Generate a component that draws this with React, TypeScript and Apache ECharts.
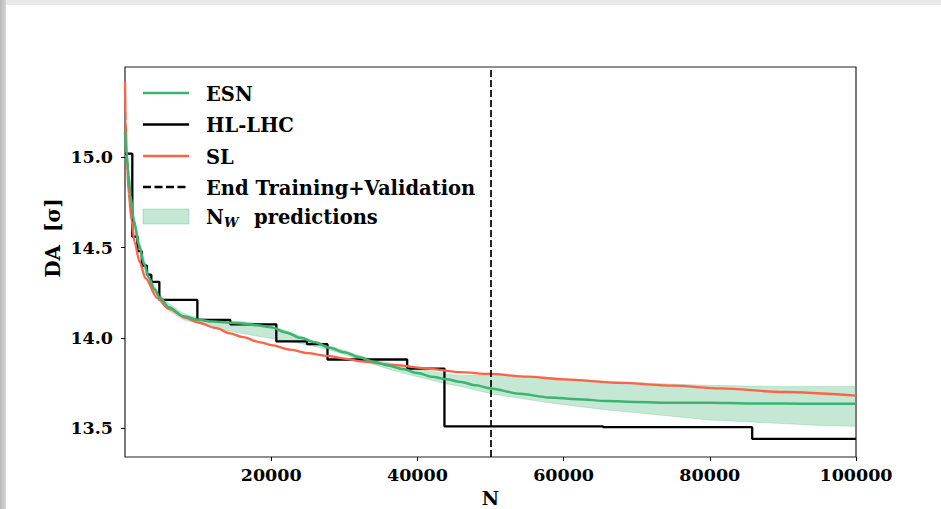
import React, { useEffect, useRef } from "react";
import * as echarts from "echarts";

const FONT = '"DejaVu Serif", serif';

// x grid shared by ESN and N_W band
const N_GRID = [0, 200, 500, 750, 1200, 1950, 2600, 3300, 4000, 4800, 6000, 8000, 10000, 12000, 14000, 16000, 18000, 20000, 22000, 24000, 26000, 28000, 30000, 32000, 34000, 36000, 38000, 40000, 42000, 44000, 46000, 48000, 50000, 54000, 58000, 62000, 66000, 70000, 75000, 80000, 85000, 90000, 95000, 100000];
const ESN = [15.14, 15.03, 14.9, 14.79, 14.65, 14.51, 14.41, 14.33, 14.27, 14.22, 14.17, 14.12, 14.1, 14.09, 14.085, 14.08, 14.07, 14.058, 14.03, 14.0, 13.975, 13.945, 13.92, 13.893, 13.868, 13.847, 13.827, 13.805, 13.785, 13.77, 13.755, 13.737, 13.72, 13.69, 13.67, 13.66, 13.65, 13.645, 13.64, 13.64, 13.637, 13.636, 13.635, 13.635];
const BAND_LO = [15.11, 15.0, 14.87, 14.76, 14.62, 14.49, 14.39, 14.31, 14.25, 14.2, 14.15, 14.1, 14.08, 14.06, 14.04, 14.025, 14.01, 13.997, 13.983, 13.968, 13.952, 13.932, 13.908, 13.88, 13.853, 13.828, 13.805, 13.785, 13.765, 13.745, 13.73, 13.71, 13.69, 13.665, 13.64, 13.62, 13.6, 13.585, 13.565, 13.545, 13.535, 13.525, 13.515, 13.51];
const BAND_HI = [15.17, 15.06, 14.93, 14.82, 14.68, 14.54, 14.44, 14.36, 14.29, 14.24, 14.19, 14.135, 14.11, 14.1, 14.095, 14.09, 14.08, 14.065, 14.04, 14.01, 13.98, 13.955, 13.93, 13.903, 13.88, 13.862, 13.845, 13.83, 13.815, 13.8, 13.79, 13.793, 13.795, 13.79, 13.78, 13.77, 13.76, 13.752, 13.743, 13.737, 13.733, 13.731, 13.73, 13.73];

// SL fit
const SL_N = [0, 100, 250, 500, 900, 1300, 2000, 2800, 4400, 6000, 8300, 10000, 12400, 14400, 16000, 18500, 20000, 22600, 25000, 27700, 30000, 32200, 36700, 41300, 45800, 50000, 55000, 60000, 67700, 75000, 81400, 90000, 100000];
const SL = [15.42, 15.2, 15.0, 14.8, 14.65, 14.53, 14.42, 14.33, 14.22, 14.16, 14.11, 14.085, 14.055, 14.025, 14.005, 13.975, 13.96, 13.935, 13.915, 13.9, 13.885, 13.87, 13.85, 13.83, 13.81, 13.8, 13.785, 13.77, 13.75, 13.735, 13.72, 13.7, 13.68];

// HL-LHC step data (value holds from N until next N)
const HL_N = [0, 1000, 1700, 2300, 3000, 3600, 4700, 9900, 14400, 20700, 24900, 27700, 38600, 43700, 65400, 85800, 100000];
const HL = [15.02, 14.56, 14.48, 14.4, 14.35, 14.31, 14.21, 14.1, 14.075, 13.98, 13.965, 13.88, 13.83, 13.51, 13.505, 13.44, 13.44];

const END_TRAINING = 50000;
const Y_TICKS = [13.5, 14.0, 14.5, 15.0];
const LEGEND = ["ESN", "HL-LHC", "SL", "End Training+Validation"];

const GREEN = "#3cb371";
const RED = "#ff6347";
const BAND = "rgba(60,179,113,0.3)";

export default function App() {
  const ref = useRef<HTMLDivElement>(null);
  useEffect(() => {
    const chart = echarts.init(ref.current!, null, { renderer: "svg" });
    const zip = (xs: number[], ys: number[]) => xs.map((x, i) => [x, ys[i]]);
    const labelStyle = { fontFamily: FONT, fontWeight: "bold" as const, fontSize: 17.5, color: "#000" };
    const legFont = { fontFamily: FONT, fontWeight: "bold", fontSize: 19.5, fill: "#000" };
    const rows = [93, 124.5, 156, 187, 216.5];
    const lx1 = 143, lx2 = 189, tx = 206;
    const bandData = N_GRID.map((n, i) => [n, BAND_LO[i], BAND_HI[i]]);
    chart.setOption({
      animation: false,
      grid: {
        left: 125, right: 85, top: 67, bottom: 52, show: true, borderColor: "#222", borderWidth: 1.2,
        backgroundColor: "transparent", containLabel: false, outerBoundsMode: "none",
      },
      xAxis: {
        type: "value", min: 0, max: 100000, interval: 20000,
        axisLine: { show: false },
        axisTick: { show: true, length: 4, lineStyle: { color: "#000", width: 1 } },
        axisLabel: { ...labelStyle, showMinLabel: false, margin: 9, formatter: (v: number) => String(v) },
        splitLine: { show: false },
        name: "N", nameLocation: "middle", nameGap: 28,
        nameTextStyle: { fontFamily: FONT, fontWeight: "bold", fontSize: 19, lineHeight: 19, color: "#000" },
      },
      yAxis: {
        type: "value", min: 13.34, max: 15.5,
        axisLine: { show: false },
        axisTick: { show: true, length: 4, customValues: Y_TICKS, lineStyle: { color: "#000", width: 1 } },
        axisLabel: { ...labelStyle, margin: 12, customValues: Y_TICKS, formatter: (v: number) => v.toFixed(1) },
        splitLine: { show: false },
      },
      series: [
        {
          type: "custom", name: "N_W predictions", data: bandData, clip: true, silent: true, z: 1,
          encode: { x: 0, y: [1, 2] },
          renderItem: (params: any, api: any) => {
            if (params.dataIndex !== 0) return null;
            const upper = bandData.map((d) => api.coord([d[0], d[2]]));
            const lower = bandData.map((d) => api.coord([d[0], d[1]])).reverse();
            return {
              type: "polygon",
              shape: { points: upper.concat(lower) },
              style: { fill: BAND, stroke: BAND, lineWidth: 0.8 },
            };
          },
        },
        {
          type: "line", name: "HL-LHC", data: zip(HL_N, HL), step: "end", symbol: "none",
          lineStyle: { color: "#000", width: 2.3 }, z: 2,
          markLine: {
            silent: true, symbol: "none", label: { show: false },
            lineStyle: { color: "#000", width: 1.7, type: [7, 3] },
            data: [{ xAxis: END_TRAINING }],
          },
        },
        {
          type: "line", name: "SL", data: zip(SL_N, SL), symbol: "none", smooth: 0.3, smoothMonotone: "x",
          lineStyle: { color: RED, width: 2.3 }, z: 3,
        },
        {
          type: "line", name: "ESN", data: zip(N_GRID, ESN), symbol: "none", smooth: 0.3, smoothMonotone: "x",
          lineStyle: { color: GREEN, width: 2.5 }, z: 4,
        },
      ],
      graphic: [
        { type: "line", shape: { x1: lx1, y1: rows[0], x2: lx2, y2: rows[0] }, style: { stroke: GREEN, lineWidth: 2.5 }, z: 10 },
        { type: "line", shape: { x1: lx1, y1: rows[1], x2: lx2, y2: rows[1] }, style: { stroke: "#000", lineWidth: 2.5 }, z: 10 },
        { type: "line", shape: { x1: lx1, y1: rows[2], x2: lx2, y2: rows[2] }, style: { stroke: RED, lineWidth: 2.5 }, z: 10 },
        { type: "line", shape: { x1: lx1, y1: rows[3], x2: lx2, y2: rows[3] }, style: { stroke: "#000", lineWidth: 2.3, lineDash: [8, 3.5] }, z: 10 },
        { type: "rect", shape: { x: lx1, y: rows[4] - 7.5, width: lx2 - lx1, height: 15 }, style: { fill: BAND, stroke: BAND, lineWidth: 1 }, z: 10 },
        ...LEGEND.map((t, i) => ({
          type: "text", x: tx, y: rows[i] + 1, z: 10,
          style: { ...legFont, text: t, textAlign: "left", textVerticalAlign: "middle" },
        })),
        { type: "text", x: tx, y: rows[4] + 1, z: 10, style: { ...legFont, text: "N", textAlign: "left", textVerticalAlign: "middle" } },
        { type: "text", x: 224, y: rows[4] + 6, z: 10, style: { fontFamily: FONT, fontWeight: "bold", fontStyle: "italic", fontSize: 13, fill: "#000", text: "W", textAlign: "left", textVerticalAlign: "middle" } },
        { type: "text", x: 254, y: rows[4] + 1, z: 10, style: { ...legFont, text: "predictions", textAlign: "left", textVerticalAlign: "middle" } },
        {
          type: "text", x: 53, y: 238, rotation: Math.PI / 2, z: 10,
          style: {
            text: "{a|DA} {a|[σ]}", textAlign: "center", textVerticalAlign: "middle",
            rich: { a: { fontFamily: FONT, fontWeight: "bold", fontSize: 20, fill: "#000", padding: [0, 3, 0, 3] } },
            fontFamily: FONT, fontWeight: "bold", fontSize: 20, fill: "#000",
          },
        },
      ],
    });
    return () => chart.dispose();
  }, []);
  return (
    <div style={{ position: "fixed", left: 0, top: 0, width: 941, height: 509, background: "#fff", overflow: "hidden" }}>
      <div style={{ position: "absolute", left: 0, top: 0, width: 941, height: 5, background: "#e9e9e9" }} />
      <div style={{ position: "absolute", left: 0, top: 0, width: 6, height: 509, background: "linear-gradient(to right, #b9b9b9, #d6d6d6)" }} />
      <div ref={ref} style={{ position: "absolute", left: 0, top: 0, width: 941, height: 509 }} />
    </div>
  );
}
